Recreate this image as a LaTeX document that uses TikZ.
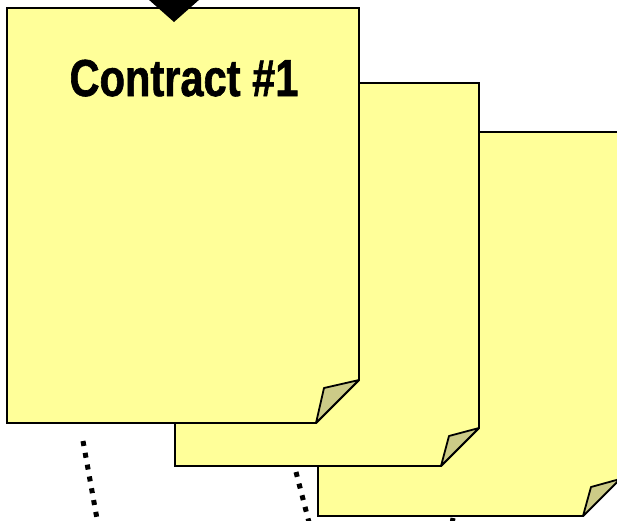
\documentclass[tikz,border=0pt]{standalone}
\usepackage{fontspec}
\newfontfamily\titlefont[FakeStretch=0.8,FakeBold=1.2]{Liberation Sans}
\definecolor{pagefill}{HTML}{FFFF99}
\definecolor{flapfill}{HTML}{CCCB87}
\tikzset{
  pageshape/.style={draw=black, line width=1.8pt, fill=pagefill, line join=miter},
  flapshape/.style={draw=black, line width=1.8pt, fill=flapfill, line join=round},
  dotline/.style={line width=5pt, dash pattern=on 5pt off 7pt},
  title/.style={font=\titlefont\bfseries\fontsize{52}{52}\selectfont, inner sep=0pt, anchor=base}
}
\newcommand{\mypage}[6]{% L T R B c name
  \coordinate (#6-nw) at (#1,#2);
  \coordinate (#6-se) at (#3,#4);
  \draw[pageshape] (#1,#2) -- (#3,#2) -- (#3,#4-#5) -- (#3-#5,#4) -- (#1,#4) -- cycle;
  \draw[flapshape] (#3-#5,#4) -- (#3-#5+8,#4-#5+8) -- (#3,#4-#5) -- cycle;
}
\begin{document}
\begin{tikzpicture}[x=1pt,y=-1pt]
\useasboundingbox (0,0) rectangle (617,520);
\clip (0,0) rectangle (617,520);
\fill[white] (0,0) rectangle (617,520);
% dotted connectors
\coordinate (d1s) at (83,441);
\coordinate (d1e) at (99,530);
\coordinate (d2s) at (296,472);
\coordinate (d2e) at (311,530);
\coordinate (d3s) at (453,518);
\coordinate (d3e) at (451,530);
\draw[dotline] (d1s) -- (d1e);
\draw[dotline] (d2s) -- (d2e);
\draw[dotline] (d3s) -- (d3e);
% pages (back to front)
\mypage{318}{132}{620}{516}{37}{p3}
\mypage{175}{83}{479}{466}{38}{p2}
\mypage{7}{8}{359}{423}{43}{p1}
\node[title] (t1) at (184,96) {Contract \#1};
% arrow head onto page 1
\coordinate (a1) at (148,-1);
\coordinate (a2) at (200,-1);
\coordinate (a3) at (174,22);
\fill[black] (a1) -- (a2) -- (a3) -- cycle;
\end{tikzpicture}
\end{document}
